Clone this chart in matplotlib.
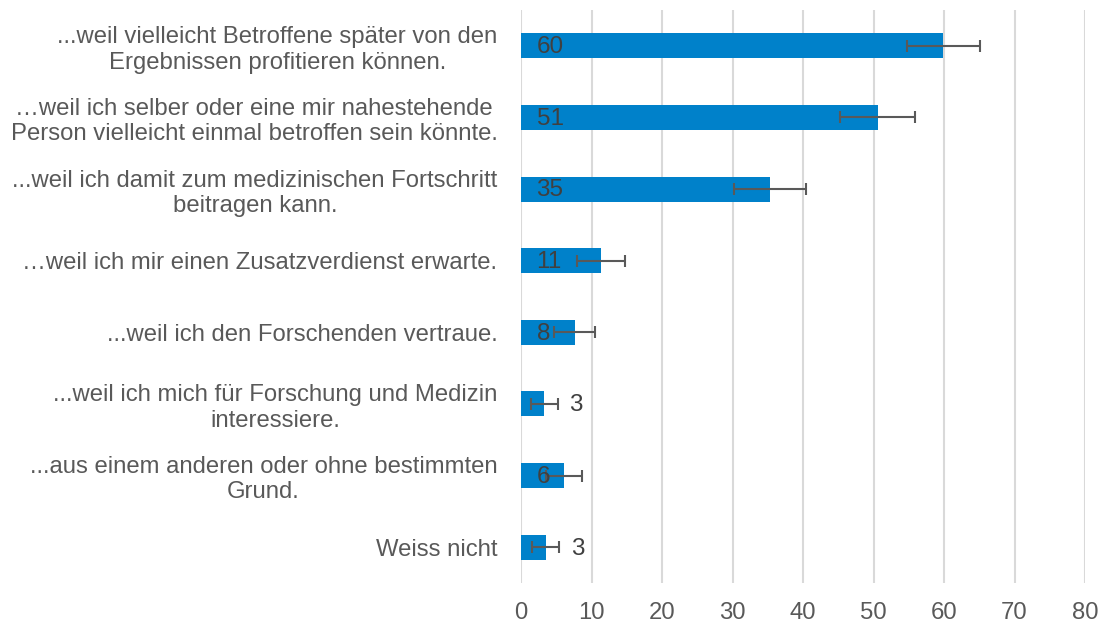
import matplotlib.pyplot as plt

CATEGORIES = [
    "...weil vielleicht Betroffene später von den\nErgebnissen profitieren können.",
    "…weil ich selber oder eine mir nahestehende\nPerson vielleicht einmal betroffen sein könnte.",
    "...weil ich damit zum medizinischen Fortschritt\nbeitragen kann.",
    "…weil ich mir einen Zusatzverdienst erwarte.",
    "...weil ich den Forschenden vertraue.",
    "...weil ich mich für Forschung und Medizin\ninteressiere.",
    "...aus einem anderen oder ohne bestimmten\nGrund.",
    "Weiss nicht",
]
VALUES = [59.9, 50.6, 35.3, 11.3, 7.6, 3.3, 6.1, 3.5]
ERRORS = [5.2, 5.35, 5.1, 3.4, 2.9, 1.9, 2.55, 1.95]
LABELS = ["60", "51", "35", "11", "8", "3", "6", "3"]
LABEL_OUTSIDE = [False, False, False, False, False, True, False, True]
X_TICKS = [0, 10, 20, 30, 40, 50, 60, 70, 80]

BAR_COLOR = "#0081CA"
TEXT_COLOR = "#595959"
GRID_COLOR = "#D9D9D9"

plt.rcParams["font.family"] = ["Liberation Sans", "DejaVu Sans"]

fig = plt.figure(figsize=(11.03, 6.24), dpi=100)
ax = fig.add_axes([521 / 1103, 1 - 583 / 624, (1085 - 521) / 1103, (583 - 10) / 624])

positions = list(range(len(CATEGORIES)))
ax.barh(positions, VALUES, height=0.35, color=BAR_COLOR, zorder=2)
ax.errorbar(VALUES, positions, xerr=ERRORS, fmt="none", ecolor=TEXT_COLOR,
            elinewidth=1.5, capsize=4.5, capthick=1.5, zorder=3)

# value labels sit at the bar base, or past the error bar when the bar is tiny
for pos, value, err, label, outside in zip(positions, VALUES, ERRORS, LABELS, LABEL_OUTSIDE):
    x = value + err + 1.6 if outside else 2.2
    ax.text(x, pos + 0.02, label, ha="left", va="center", fontsize=17.5,
            color="#404040", zorder=4)

ax.set_xlim(0, 80)
ax.set_ylim(len(CATEGORIES) - 0.5, -0.5)
ax.set_xticks(X_TICKS)
ax.set_yticks(positions)
ax.set_yticklabels(CATEGORIES, multialignment="center", linespacing=1.2)
ax.tick_params(axis="both", length=0, labelsize=17.2, labelcolor=TEXT_COLOR)
ax.tick_params(axis="y", pad=17)
ax.tick_params(axis="x", pad=14)
ax.grid(axis="x", color=GRID_COLOR, linewidth=1.5, zorder=0)
for spine in ax.spines.values():
    spine.set_visible(False)

fig.savefig("out.png", dpi=100)
